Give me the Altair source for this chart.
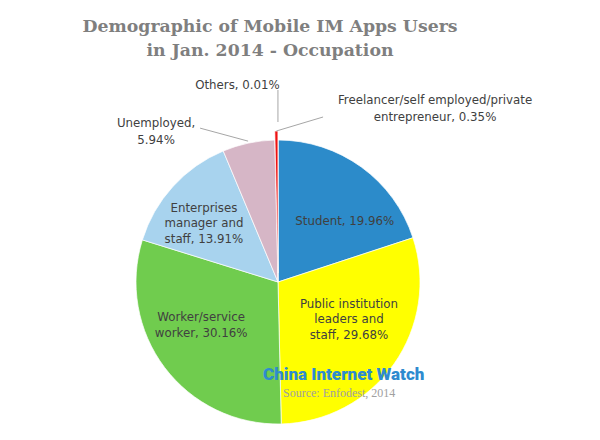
import math
import altair as alt
import pandas as pd

# ---- data ----
categories = [
    "Student",
    "Public institution leaders and staff",
    "Worker/service worker",
    "Enterprises manager and staff",
    "Unemployed",
    "Freelancer/self employed/private entrepreneur",
    "Others",
]
values = [19.96, 29.68, 30.16, 13.91, 5.94, 0.35, 0.01]
labels = [
    "Student, 19.96%",
    "Public institution\nleaders and\nstaff, 29.68%",
    "Worker/service\nworker, 30.16%",
    "Enterprises\nmanager and\nstaff, 13.91%",
    "Unemployed,\n5.94%",
    "Freelancer/self employed/private\nentrepreneur, 0.35%",
    "Others, 0.01%",
]
title_lines = ["Demographic of Mobile IM Apps Users", "in Jan. 2014 - Occupation"]
brand = "China Internet Watch"
source = "Source: Enfodest, 2014"

# ---- styles ----
colors = ["#2C8BCA", "#FFFF00", "#70CC4E", "#A8D3EE", "#D6B6C6", "#EE1111", "#7F7F7F"]
FONT = "DejaVu Sans"
FS = 11.8
CX, CY, R = 270, 274, 142
EXPLODE = 9
TOTAL = sum(values)
FREEL = categories[5]

df = pd.DataFrame({"category": categories, "value": values, "label": labels,
                   "nlines": [s.count("\n") + 1 for s in labels],
                   "idx": list(range(len(categories)))})

base = alt.Chart(df).transform_window(
    cum="sum(value)", sort=[alt.SortField("idx", order="ascending")], frame=[None, 0]
).transform_calculate(
    start="datum.cum - datum.value",
    a=f"(datum.cum - datum.value / 2) / {TOTAL} * 2 * PI",
)

theta_scale = alt.Scale(domain=[0, TOTAL], range=[0, 2 * math.pi])
color_scale = alt.Scale(domain=categories, range=colors)


def arc_layer(flt, yoff):
    return base.transform_filter(flt).mark_arc(
        outerRadius=R, stroke="white", strokeWidth=0.7
    ).encode(
        theta=alt.Theta("start:Q", scale=theta_scale, stack=False),
        theta2="cum:Q",
        color=alt.Color("category:N", scale=color_scale, legend=None),
        x=alt.value(CX),
        y=alt.value(CY - yoff),
    )


pie = arc_layer(alt.datum.category != FREEL, 0)
freel = arc_layer(alt.datum.category == FREEL, EXPLODE)


def inside_label(cat, r, dx, dy, lh=15.5):
    return base.transform_filter(alt.datum.category == cat).transform_calculate(
        lx=f"{CX} + {r} * sin(datum.a) + {dx}",
        ly=f"{CY} - {r} * cos(datum.a) + {dy} - (datum.nlines - 1) * {lh} / 2",
    ).mark_text(
        align="center", baseline="middle", lineBreak="\n", font=FONT,
        fontSize=FS, color="#404040", lineHeight=lh
    ).encode(
        x=alt.X("lx:Q", scale=None), y=alt.Y("ly:Q", scale=None), text="label:N"
    )


def outside_label(cat, r0, ddx, ddy, tdx, tdy, yoff=0, lh=16.5):
    b = base.transform_filter(alt.datum.category == cat).transform_calculate(
        sx=f"{CX} + {R + r0} * sin(datum.a)",
        sy=f"{CY - yoff} - {R + r0} * cos(datum.a)",
    ).transform_calculate(
        ex=f"datum.sx + {ddx}",
        ey=f"datum.sy + {ddy}",
        tx=f"datum.sx + {ddx + tdx}",
        ty=f"datum.sy + {ddy + tdy} - (datum.nlines - 1) * {lh} / 2",
    )
    line = b.mark_rule(color="#A6A6A6", strokeWidth=1).encode(
        x=alt.X("sx:Q", scale=None), y=alt.Y("sy:Q", scale=None),
        x2="ex:Q", y2="ey:Q",
    )
    txt = b.mark_text(
        align="center", baseline="middle", lineBreak="\n", font=FONT,
        fontSize=FS, color="#404040", lineHeight=lh
    ).encode(
        x=alt.X("tx:Q", scale=None), y=alt.Y("ty:Q", scale=None), text="label:N"
    )
    return [line, txt]


layers = [pie, freel,
          inside_label(categories[0], 90, 14, 12),
          inside_label(categories[1], 90, -2.5, -14.5),
          inside_label(categories[2], 90, -5, -11),
          inside_label(categories[3], 90, -7.5, 1.6)]
layers += outside_label(categories[4], 2, -48, -13, -44, 3.5)
layers += outside_label(categories[6], 18, 0, -32, -40.5, -5)
layers += outside_label(categories[5], 0, 46.7, -14, 112, -8.5, yoff=EXPLODE)

one = alt.Chart(pd.DataFrame({"k": [0]}))
title = one.mark_text(
    text=title_lines, font="DejaVu Serif", fontWeight="bold", fontSize=17.3,
    color="#7F7F7F", align="center", baseline="alphabetic", lineHeight=24
).encode(x=alt.value(262), y=alt.value(24))
brand_t = one.mark_text(
    text=brand, font="Roboto, sans-serif",
    fontWeight=900, fontSize=17, color="#2E8BCF", align="left", baseline="middle"
).encode(x=alt.value(255), y=alt.value(367))
source_t = one.mark_text(
    text=source, font="Liberation Serif, serif", fontSize=12, color="#A0A0A0",
    align="left", baseline="middle"
).encode(x=alt.value(275), y=alt.value(385))

layers += [title, brand_t, source_t]

chart = alt.layer(*layers).properties(
    width=584, height=424, padding=0
).configure_view(stroke=None)

chart.save("out.html", embed_options={"renderer": "svg", "actions": False})
